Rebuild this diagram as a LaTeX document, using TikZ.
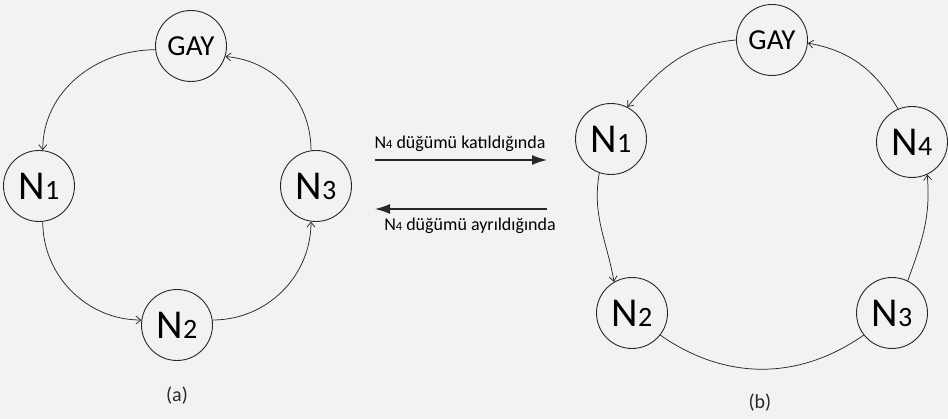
\documentclass[tikz,border=0pt]{standalone}
\usepackage{fontspec}
\setmainfont{Carlito}
\usetikzlibrary{arrows.meta}
\definecolor{paper}{RGB}{243,242,240}
\definecolor{ink}{RGB}{40,40,40}
\newcommand{\nlabel}[1]{{\fontsize{41}{41}\selectfont N}{\fontsize{28}{28}\selectfont #1}}
\newcommand{\gaylabel}{{\fontsize{29}{29}\selectfont GAY}}
\newcommand{\nfour}{N{\fontsize{12.5}{12.5}\selectfont 4}}
\begin{document}
\begin{tikzpicture}[x=1pt,y=1pt,
  peer/.style={circle,draw=ink,line width=0.9pt,minimum size=71pt,inner sep=0pt,text=black},
  ring/.style={draw=ink,line width=0.75pt,-{Straight Barb[length=5pt,width=8pt]}},
  plainring/.style={draw=ink,line width=0.75pt},
  event/.style={draw=ink,line width=1.3pt,-{Latex[length=15pt,width=10pt]}},
  eventtext/.style={font=\fontsize{18}{18}\selectfont,text=black,inner sep=0pt},
  caption/.style={font=\fontsize{20}{20}\selectfont,text=ink}]
  % background sheet
  \fill[paper] (0,0) rectangle (948,419);
  \useasboundingbox (0,0) rectangle (948,419);

  % ---- (a): ring of three peers ----
  \node[peer] (aG) at (191,373) {\gaylabel};
  \node[peer] (a1) at (39,233) {\nlabel{1}};
  \node[peer] (a3) at (316,233) {\nlabel{3}};
  \node[peer] (a2) at (177,94) {\nlabel{2}};
  \node[caption] (capa) at (177,23) {(a)};

  \draw[ring] (aG.186) to[out=180,in=90] (a1.84);
  \draw[ring] (a1.276) to[out=270,in=180] (a2.172);
  \draw[ring] (a2.8) to[out=0,in=270] (a3.262);
  \draw[ring] (a3.98) to[out=90,in=-5] (aG.343);

  % ---- transitions between the two rings ----
  \coordinate (j1) at (375,259);
  \coordinate (j2) at (547,259);
  \coordinate (l1) at (547,210);
  \coordinate (l2) at (375,210);
  \draw[event] (j1) -- (j2);
  \draw[event] (l1) -- (l2);
  \node[eventtext,anchor=base] (jt) at (460,270) {\nfour{} düğümü katıldığında};
  \node[eventtext,anchor=base] (lt) at (470,188) {\nfour{} düğümü ayrıldığında};

  % ---- (b): ring of four peers ----
  \node[peer] (bG) at (772,379) {\gaylabel};
  \node[peer] (b1) at (611,280) {\nlabel{1}};
  \node[peer] (b4) at (912,277) {\nlabel{4}};
  \node[peer] (b2) at (632,106) {\nlabel{2}};
  \node[peer] (b3) at (892,106) {\nlabel{3}};
  \node[caption] (capb) at (760,16) {(b)};

  \draw[ring] (bG.180) to[out=185,in=50] (b1.63);
  \draw[ring] (b1.251) to[out=260,in=100] (b2.120);
  \draw[plainring] (b2.322) to[out=-35,in=215] (b3.218);
  \draw[ring] (b3.64) to[out=70,in=275] (b4.295);
  \draw[ring] (b4.113) to[out=120,in=-10] (bG.355);
\end{tikzpicture}
\end{document}
